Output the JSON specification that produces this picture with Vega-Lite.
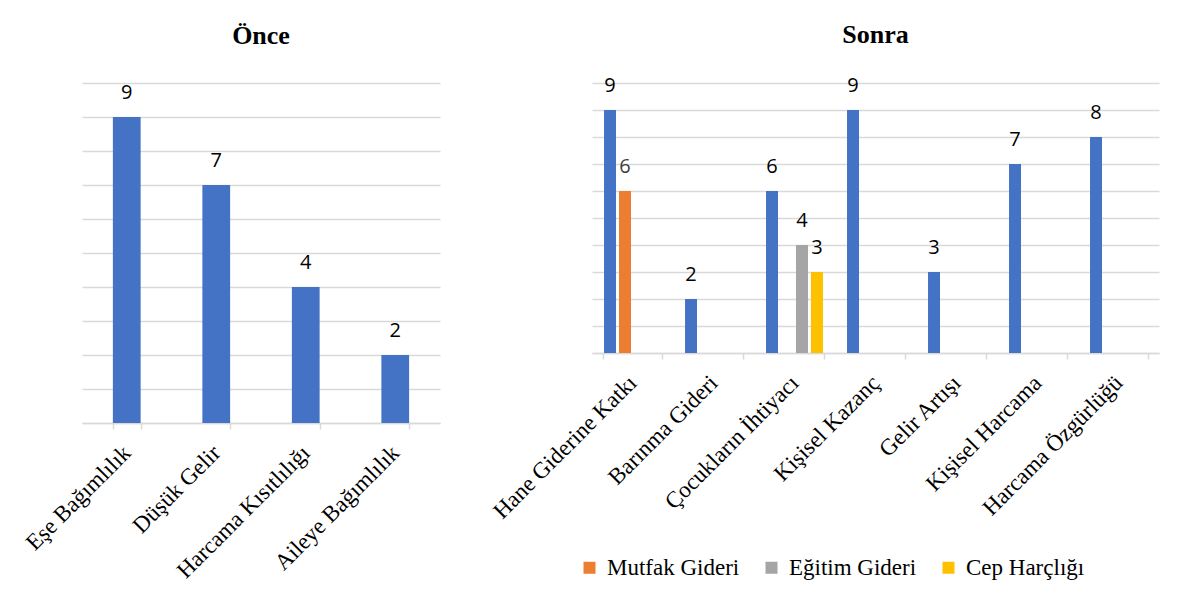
{
  "$schema": "https://vega.github.io/schema/vega-lite/v6.json",
  "background": "white",
  "padding": {"left": 21, "top": 21, "right": 5, "bottom": 5},
  "datasets": {
    "once": [
      {"kategori": "Eşe Bağımlılık", "deger": 9},
      {"kategori": "Düşük Gelir", "deger": 7},
      {"kategori": "Harcama Kısıtlılığı", "deger": 4},
      {"kategori": "Aileye Bağımlılık", "deger": 2}
    ],
    "sonra": [
      {"kategori": "Hane Giderine Katkı", "seri": "Genel", "deger": 9},
      {"kategori": "Hane Giderine Katkı", "seri": "Mutfak Gideri", "deger": 6},
      {"kategori": "Barınma Gideri", "seri": "Genel", "deger": 2},
      {"kategori": "Çocukların İhtiyacı", "seri": "Genel", "deger": 6},
      {"kategori": "Çocukların İhtiyacı", "seri": "Eğitim Gideri", "deger": 4},
      {"kategori": "Çocukların İhtiyacı", "seri": "Cep Harçlığı", "deger": 3},
      {"kategori": "Kişisel  Kazanç", "seri": "Genel", "deger": 9},
      {"kategori": "Gelir Artışı", "seri": "Genel", "deger": 3},
      {"kategori": "Kişisel Harcama", "seri": "Genel", "deger": 7},
      {"kategori": "Harcama Özgürlüğü", "seri": "Genel", "deger": 8}
    ]
  },
  "spacing": 49,
  "hconcat": [
    {
      "title": {"text": "Önce", "offset": 34},
      "width": 358,
      "height": 340,
      "data": {"name": "once"},
      "encoding": {
        "x": {
          "field": "kategori",
          "type": "nominal",
          "sort": null,
          "scale": {"paddingInner": 0.69, "paddingOuter": 0.345},
          "axis": {"title": null}
        },
        "y": {
          "field": "deger",
          "type": "quantitative",
          "scale": {"domain": [0, 10]},
          "axis": {"title": null, "values": [0, 1, 2, 3, 4, 5, 6, 7, 8, 9, 10]}
        }
      },
      "layer": [
        {"mark": {"type": "bar", "color": "#4472C4"}},
        {
          "mark": {"type": "text", "dy": -18, "baseline": "alphabetic", "font": "Open Sans", "fontSize": 20, "color": "#000000"},
          "encoding": {"text": {"field": "deger", "type": "quantitative"}}
        }
      ]
    },
    {
      "title": {"text": "Sonra", "offset": 28},
      "width": 567,
      "height": 270,
      "data": {"name": "sonra"},
      "encoding": {
        "x": {
          "field": "kategori",
          "type": "nominal",
          "sort": null,
          "scale": {"paddingInner": 0.26, "paddingOuter": 0.13},
          "axis": {"title": null}
        },
        "xOffset": {
          "field": "seri",
          "type": "nominal",
          "scale": {"domain": ["Genel", "Mutfak Gideri", "Eğitim Gideri", "Cep Harçlığı"], "paddingInner": 0.2, "paddingOuter": 0.1}
        },
        "y": {
          "field": "deger",
          "type": "quantitative",
          "scale": {"domain": [0, 10]},
          "axis": {"title": null, "values": [0, 1, 2, 3, 4, 5, 6, 7, 8, 9, 10]}
        }
      },
      "layer": [
        {
          "mark": {"type": "bar"},
          "encoding": {
            "color": {
              "field": "seri",
              "type": "nominal",
              "scale": {
                "domain": ["Genel", "Mutfak Gideri", "Eğitim Gideri", "Cep Harçlığı"],
                "range": ["#4472C4", "#ED7D31", "#A5A5A5", "#FFC000"]
              },
              "legend": {
                "values": ["Mutfak Gideri", "Eğitim Gideri", "Cep Harçlığı"],
                "orient": "none",
                "legendX": 496,
                "legendY": 473,
                "direction": "horizontal",
                "title": null
              }
            }
          }
        },
        {
          "mark": {"type": "text", "dy": -18, "baseline": "alphabetic", "font": "Open Sans", "fontSize": 20},
          "encoding": {
            "text": {"field": "deger", "type": "quantitative"},
            "color": {
              "condition": {"test": "datum.seri === 'Mutfak Gideri'", "value": "#404040"},
              "value": "#000000"
            }
          }
        }
      ]
    }
  ],
  "config": {
    "view": {"stroke": null},
    "font": "Liberation Serif",
    "title": {
      "font": "Liberation Serif",
      "fontSize": 26,
      "fontWeight": "bold",
      "color": "#000000",
      "anchor": "middle"
    },
    "axisX": {
      "labelAngle": -45,
      "labelAlign": "right",
      "labelBaseline": "middle",
      "labelFont": "Liberation Serif",
      "labelFontSize": 23,
      "labelColor": "#000000",
      "labelPadding": 20,
      "labelLimit": 400,
      "tickBand": "extent",
      "tickColor": "#D9D9D9",
      "tickWidth": 1.5,
      "tickSize": 6,
      "domainColor": "#D9D9D9",
      "domainWidth": 1.5,
      "grid": false
    },
    "axisY": {
      "labels": false,
      "ticks": false,
      "domain": false,
      "grid": true,
      "gridColor": "#D9D9D9",
      "gridWidth": 1.5
    },
    "legend": {
      "symbolType": "square",
      "symbolSize": 144,
      "symbolStrokeWidth": 0,
      "labelFont": "Liberation Serif",
      "labelFontSize": 23,
      "labelColor": "#000000",
      "labelOffset": 6,
      "columnPadding": 20,
      "padding": 0,
      "labelLimit": 300
    }
  }
}
